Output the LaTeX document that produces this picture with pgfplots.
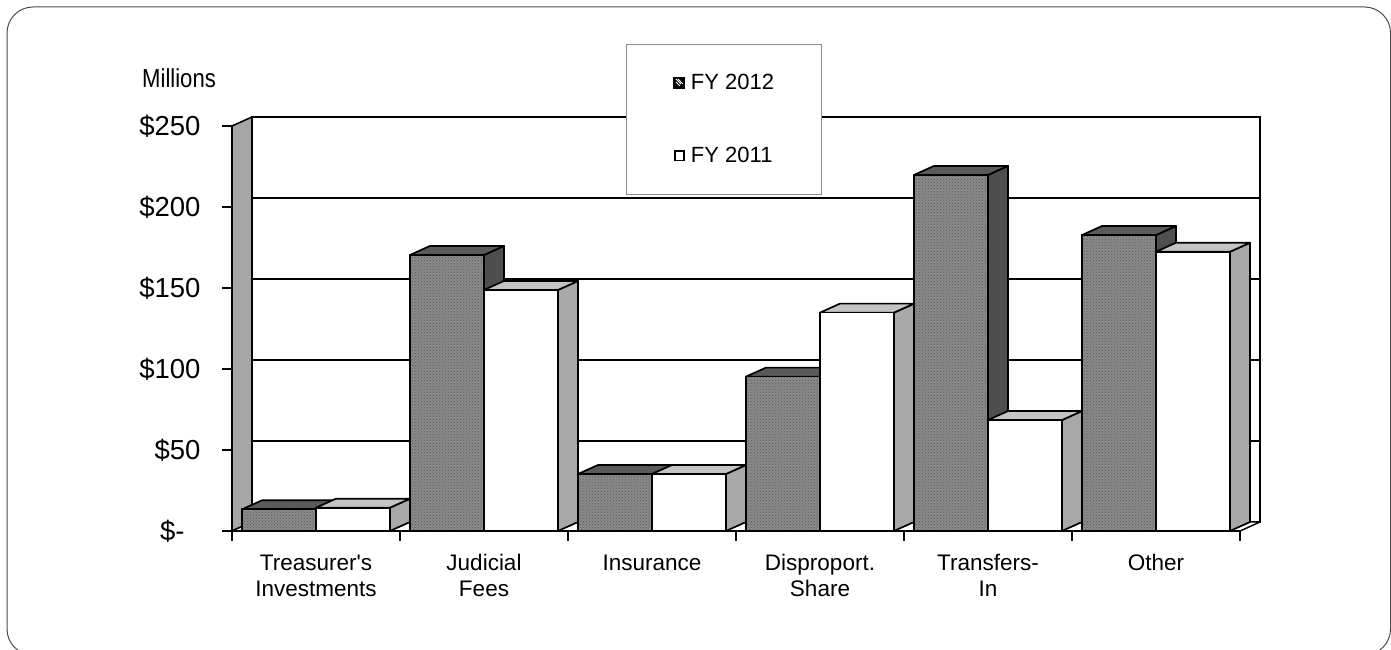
\documentclass[border=0pt]{standalone}
\usepackage{fontspec}
\setmainfont{Liberation Sans}
\newfontfamily\narrowfont[FakeStretch=0.85]{Liberation Sans}
\usepackage{pgfplots}
\pgfplotsset{compat=1.18}
\usepackage{pgfplotstable}
\usetikzlibrary{patterns}

\definecolor{dk}{HTML}{8A8A8A}
\definecolor{dkdot}{HTML}{5C5C5C}
\definecolor{dktop}{HTML}{5A5A5A}
\definecolor{dkside}{HTML}{4E4E4E}
\definecolor{lttop}{HTML}{C4C4C4}
\definecolor{ltside}{HTML}{A8A8A8}
\definecolor{wallc}{HTML}{A6A6A6}

% Revenue by source, millions of dollars
\pgfplotstableread{
x v12 v11
0 13.4 14.4
1 170.4 148.8
2 35.2 35.2
3 95.3 134.8
4 219.8 68.5
5 182.7 172.4
}\revtable

\pgfdeclareplotmark{nomark}{}
\tikzset{face/.style={draw=black, line width=1.7pt, line join=round}}

\begin{document}
\begin{tikzpicture}
\begin{axis}[
  at={(232pt,118pt)}, anchor=south west,
  x=168pt, y=1.62pt,
  xmin=-0.5, xmax=5.5, ymin=0, ymax=250,
  clip=false, clip mode=individual,
  axis x line*=bottom, axis y line*=left,
  axis line style={draw=none},
  tick align=outside,
  major tick length=10pt,
  tick style={black, line width=1.2pt},
  ytick={0,50,100,150,200,250},
  yticklabels={\$-\hspace*{16pt}, \$50, \$100, \$150, \$200, \$250},
  yticklabel style={font=\fontsize{27.5}{32}\selectfont, xshift=-18pt},
  xtick={-0.5,0.5,1.5,2.5,3.5,4.5,5.5},
  x tick label as interval,
  xticklabels={{Treasurer\textquotesingle s\\Investments},{Judicial\\Fees},{Insurance},{Disproport.\\Share},{Transfers-\\In},{Other}},
  xticklabel style={font=\fontsize{22.5}{26}\selectfont, align=center, yshift=-10pt},
  legend style={at={(axis cs:1.845,300.6)}, anchor=north west,
    draw=black!45, line width=1pt, fill=white,
    inner xsep=47pt, inner ysep=30pt, row sep=56pt,
    nodes={inner sep=0pt},
    font=\fontsize{22}{26}\selectfont},
  legend cell align=left,
]
% walls and floor
\filldraw[fill=white, draw=black, line width=1.8pt] ([shift={(20pt,9pt)}]axis cs:-0.5,0) rectangle ([shift={(20pt,9pt)}]axis cs:5.5,250);
\pgfplotsinvokeforeach{50,100,150,200}{
  \draw[black, line width=1.6pt] ([shift={(20pt,9pt)}]axis cs:-0.5,#1) -- ([shift={(20pt,9pt)}]axis cs:5.5,#1);
}
\filldraw[fill=wallc, draw=black, line width=1.6pt, line join=round] (axis cs:-0.5,0) -- (axis cs:-0.5,250) -- ([shift={(20pt,9pt)}]axis cs:-0.5,250) -- ([shift={(20pt,9pt)}]axis cs:-0.5,0) -- cycle;
\filldraw[fill=white, draw=black, line width=1.4pt, line join=round] (axis cs:-0.5,0) -- (axis cs:5.5,0) -- ([shift={(20pt,9pt)}]axis cs:5.5,0) -- ([shift={(20pt,9pt)}]axis cs:-0.5,0) -- cycle;

% FY 2012: side and top faces
\addplot[forget plot, scatter, only marks, mark=nomark,
  visualization depends on={\thisrow{v12} \as \val},
  scatter/@pre marker code/.code={
    \pgfmathsetmacro\h{\val*1.62}
    \filldraw[fill=dkside, face] (0pt,0pt) -- (20pt,9pt) -- (20pt,9pt-\h pt) -- (0pt,-\h pt) -- cycle;
    \filldraw[fill=dktop, face] (-74pt,0pt) -- (0pt,0pt) -- (20pt,9pt) -- (-54pt,9pt) -- cycle;
  },
  scatter/@post marker code/.code={}
] table[x=x, y=v12] {\revtable};
% FY 2012: front faces
\addplot[forget plot, ybar, bar width=74pt, bar shift=-37pt, fill=dk, draw=black, line width=1.7pt,
  postaction={pattern=crosshatch dots, pattern color=dkdot}]
  table[x=x, y=v12] {\revtable};

% FY 2011: side and top faces
\addplot[forget plot, scatter, only marks, mark=nomark,
  visualization depends on={\thisrow{v11} \as \val},
  scatter/@pre marker code/.code={
    \pgfmathsetmacro\h{\val*1.62}
    \filldraw[fill=ltside, face] (74pt,0pt) -- (94pt,9pt) -- (94pt,9pt-\h pt) -- (74pt,-\h pt) -- cycle;
    \filldraw[fill=lttop, face] (0pt,0pt) -- (74pt,0pt) -- (94pt,9pt) -- (20pt,9pt) -- cycle;
  },
  scatter/@post marker code/.code={}
] table[x=x, y=v11] {\revtable};
% FY 2011: front faces
\addplot[forget plot, ybar, bar width=74pt, bar shift=37pt, fill=white, draw=black, line width=1.7pt]
  table[x=x, y=v11] {\revtable};

% front floor edge
\draw[black, line width=2.2pt] (axis cs:-0.5,0) -- (axis cs:5.5,0);

\addlegendimage{legend image code/.code={
  \path[draw=none, fill=none] (0pt,0pt) -- (17pt,0pt);
  \fill[black] (0pt,-5.5pt) rectangle (11pt,5.5pt);
  \draw[white, line width=0.9pt] (2pt,4pt) -- (7pt,-1pt);
  \draw[white, line width=0.9pt] (4pt,4pt) -- (9pt,-1pt);
  \draw[white, line width=0.9pt] (2pt,1pt) -- (6pt,-3pt);
  \draw[black, line width=1pt] (0pt,-5.5pt) rectangle (11pt,5.5pt);
}}
\addlegendentry{FY 2012}
\addlegendimage{legend image code/.code={
  \path[draw=none, fill=none] (0pt,0pt) -- (17pt,0pt);
  \draw[black, fill=white, line width=1.6pt] (0.8pt,-4.7pt) rectangle (10.2pt,4.7pt);
}}
\addlegendentry{FY 2011}
\end{axis}

\node[anchor=base west, inner sep=0pt, font=\narrowfont\fontsize{26}{30}\selectfont] at (142pt,561pt) {Millions};

\draw[black!70, line width=1pt, rounded corners=26pt] (7pt,642pt) rectangle (1390.5pt,-6pt);
\pgfresetboundingbox
\path[use as bounding box] (0pt,0pt) rectangle (1391pt,649pt);
\end{tikzpicture}
\end{document}
